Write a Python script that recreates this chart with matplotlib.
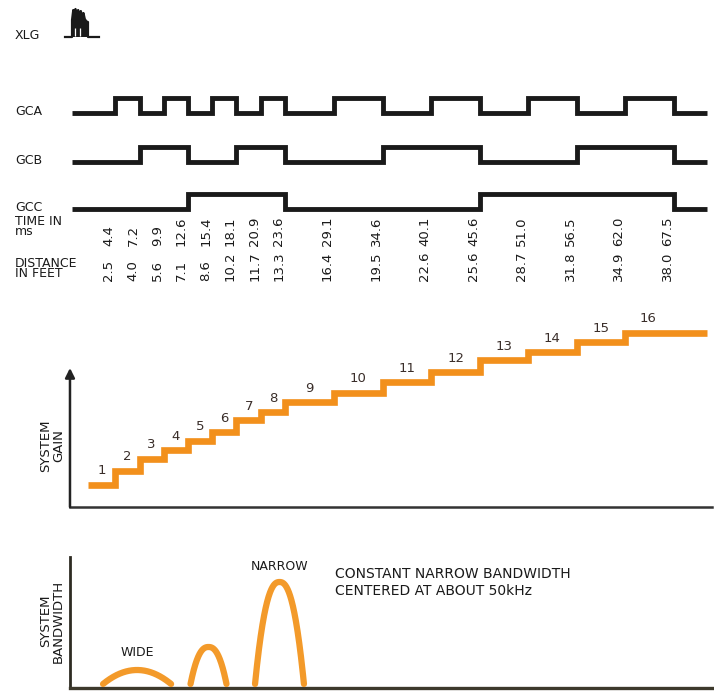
import numpy as np
import matplotlib
matplotlib.use("Agg")
import matplotlib.pyplot as plt

# ---------------- data ----------------
time_ms = [4.4, 7.2, 9.9, 12.6, 15.4, 18.1, 20.9, 23.6,
           29.1, 34.6, 40.1, 45.6, 51.0, 56.5, 62.0, 67.5]
time_labels = ["4.4", "7.2", "9.9", "12.6", "15.4", "18.1", "20.9", "23.6",
               "29.1", "34.6", "40.1", "45.6", "51.0", "56.5", "62.0", "67.5"]
distance_labels = ["2.5", "4.0", "5.6", "7.1", "8.6", "10.2", "11.7", "13.3",
                   "16.4", "19.5", "22.6", "25.6", "28.7", "31.8", "34.9", "38.0"]

# gate-control line states for each interval (before first time ... after last)
gca = [0, 1, 0, 1, 0, 1, 0, 1, 0, 1, 0, 1, 0, 1, 0, 1, 0]
gcb = [0, 0, 1, 1, 0, 0, 1, 1, 0, 0, 1, 1, 0, 0, 1, 1, 0]
gcc = [0, 0, 0, 0, 1, 1, 1, 1, 0, 0, 0, 0, 1, 1, 1, 1, 0]

# transmit burst (XLG) envelope
xlg_t = [-1.23, -0.44, -0.44, -0.30, -0.20, -0.05, 0.10, 0.25, 0.40,
         0.55, 0.70, 0.85, 1.00, 1.15, 1.30, 1.36, 1.36, 2.60]
xlg_amp = [0, 0, 17, 27, 25, 28, 24, 27, 22, 26, 21, 24, 18, 16, 15, 15, 0, 0]

# system gain staircase (arbitrary units)
gain_steps = list(range(1, 17))
gain_level = [22, 36, 48, 57, 66, 75, 87, 95, 105, 114, 125, 135, 147, 155, 165, 174]

# bandwidth responses: centre (ms), half width (ms), peak height
bw_center = [6.9, 14.96, 22.97]
bw_halfwidth = [3.84, 2.03, 2.76]
bw_peak = [18, 41, 106]
bw_shape = [2.0, 2.4, 2.4]

# ---------------- figure ----------------
W, H = 714, 692
fig = plt.figure(figsize=(W / 100, H / 100), dpi=100)
fig.patch.set_facecolor("white")
plt.rcParams["font.family"] = ["DejaVu Sans"]

X0, X1 = -8.567, 72.0          # ms shown across the full width
t_start, t_end = -0.44, 71.2
gain_start = 1.36
axis_t = -0.67
axis_end = 71.8

ORANGE = "#F2901C"
DARK = "#1a1a1a"

# timing panel (y in pixels from top)
ax = fig.add_axes([0, 0, 1, 1])
ax.set_xlim(X0, X1)
ax.set_ylim(H, 0)
ax.axis("off")

edges = [t_start] + time_ms + [t_end]
rows = [("GCA", gca, 113.0), ("GCB", gcb, 161.5), ("GCC", gcc, 209.0)]
amp = 15
for name, states, base in rows:
    yv = [base - amp * s for s in states] + [base - amp * states[-1]]
    ax.step(edges, yv, where="post", color=DARK, lw=3.5,
            solid_joinstyle="miter", solid_capstyle="butt")
    fig.text(15 / W, 1 - (base + 2) / H, name, fontsize=9, color=DARK,
             va="baseline", ha="left")

# XLG burst
xlg_base = 37
xb = np.array(xlg_t)
yb = xlg_base - np.array(xlg_amp)
ax.fill(xb, yb, color=DARK, lw=0)
ax.plot(xb, yb, color=DARK, lw=1.6)
ax.vlines([-0.15, 0.45], xlg_base - 9, xlg_base - 1, color="white", lw=0.9)
fig.text(15 / W, 1 - 39 / H, "XLG", fontsize=9, color=DARK, va="baseline")

# time / distance labels
for t, tl, dl in zip(time_ms, time_labels, distance_labels):
    ax.text(t, 246, tl, rotation=90, ha="right", va="bottom",
            fontsize=9.5, color=DARK)
    ax.text(t, 281, dl, rotation=90, ha="right", va="bottom",
            fontsize=9.5, color=DARK)
fig.text(15 / W, 1 - 215 / H, "TIME IN\nms", fontsize=9, color=DARK,
         va="top", ha="left", linespacing=0.72)
fig.text(15 / W, 1 - 257 / H, "DISTANCE\nIN FEET", fontsize=9, color=DARK,
         va="top", ha="left", linespacing=0.72)

# gain panel (y: units above baseline, 1 unit = 1 px)
ax2 = fig.add_axes([0, 0, 1, 1], frameon=False)
ax2.set_xlim(X0, X1)
gain_base_px = 507
ax2.set_ylim(-(H - gain_base_px), gain_base_px)
ax2.axis("off")

g_edges = [gain_start] + time_ms[:15] + [t_end]
g_y = gain_level + [gain_level[-1]]
ax2.step(g_edges, g_y, where="post", color=ORANGE, lw=4.8,
         solid_joinstyle="miter", solid_capstyle="butt")
for i, (n, lev) in enumerate(zip(gain_steps, gain_level)):
    a, b = g_edges[i], g_edges[i + 1]
    mid = (a + b) / 2 if i < 15 else a + 2.6
    ax2.text(mid, lev + 14, str(n), ha="center", va="center",
             fontsize=9.5, color="#3a2e2a")
ax2.annotate("", xy=(axis_t, 139), xytext=(axis_t, 0),
             arrowprops=dict(arrowstyle="-|>", lw=1.8, color="#222222",
                             mutation_scale=14, shrinkA=0, shrinkB=0))
ax2.plot([axis_t, axis_end], [0, 0], color="#333333", lw=1.8)
fig.text(52 / W, 1 - 446 / H, "SYSTEM\nGAIN", rotation=90, ha="center",
         va="center", multialignment="center", fontsize=9.5, color=DARK,
         linespacing=1.0)

# bandwidth panel
ax3 = fig.add_axes([0, 0, 1, 1], frameon=False)
ax3.set_xlim(X0, X1)
bw_base_px = 688
ax3.set_ylim(-(H - bw_base_px), bw_base_px)
ax3.axis("off")
ax3.plot([axis_t, axis_t], [0, 131], color="#2e2b22", lw=2.0)
ax3.plot([axis_t, axis_end], [0, 0], color="#3d392c", lw=2.4)
for c, w, pk, p in zip(bw_center, bw_halfwidth, bw_peak, bw_shape):
    u = np.linspace(-1, 1, 200)
    yy = 4 + (pk - 4) * (1 - np.abs(u) ** p)
    ax3.plot(c + w * u, yy, color="#F39A2A", lw=4.5, solid_capstyle="round")

ax3.text(bw_center[0], 688 - 653, "WIDE", ha="center", va="center",
         fontsize=9, color=DARK)
ax3.text(bw_center[2], 688 - 566, "NARROW", ha="center", va="center",
         fontsize=9, color=DARK)
fig.text(335 / W, 1 - 574 / H, "CONSTANT NARROW BANDWIDTH", fontsize=10,
         color=DARK, va="center", ha="left")
fig.text(335 / W, 1 - 591 / H, "CENTERED AT ABOUT 50kHz", fontsize=10,
         color=DARK, va="center", ha="left")
fig.text(52 / W, 1 - 621 / H, "SYSTEM\nBANDWIDTH", rotation=90, ha="center",
         va="center", multialignment="center", fontsize=9.5, color=DARK,
         linespacing=1.0)

fig.savefig("out.png", dpi=100, facecolor="white")
